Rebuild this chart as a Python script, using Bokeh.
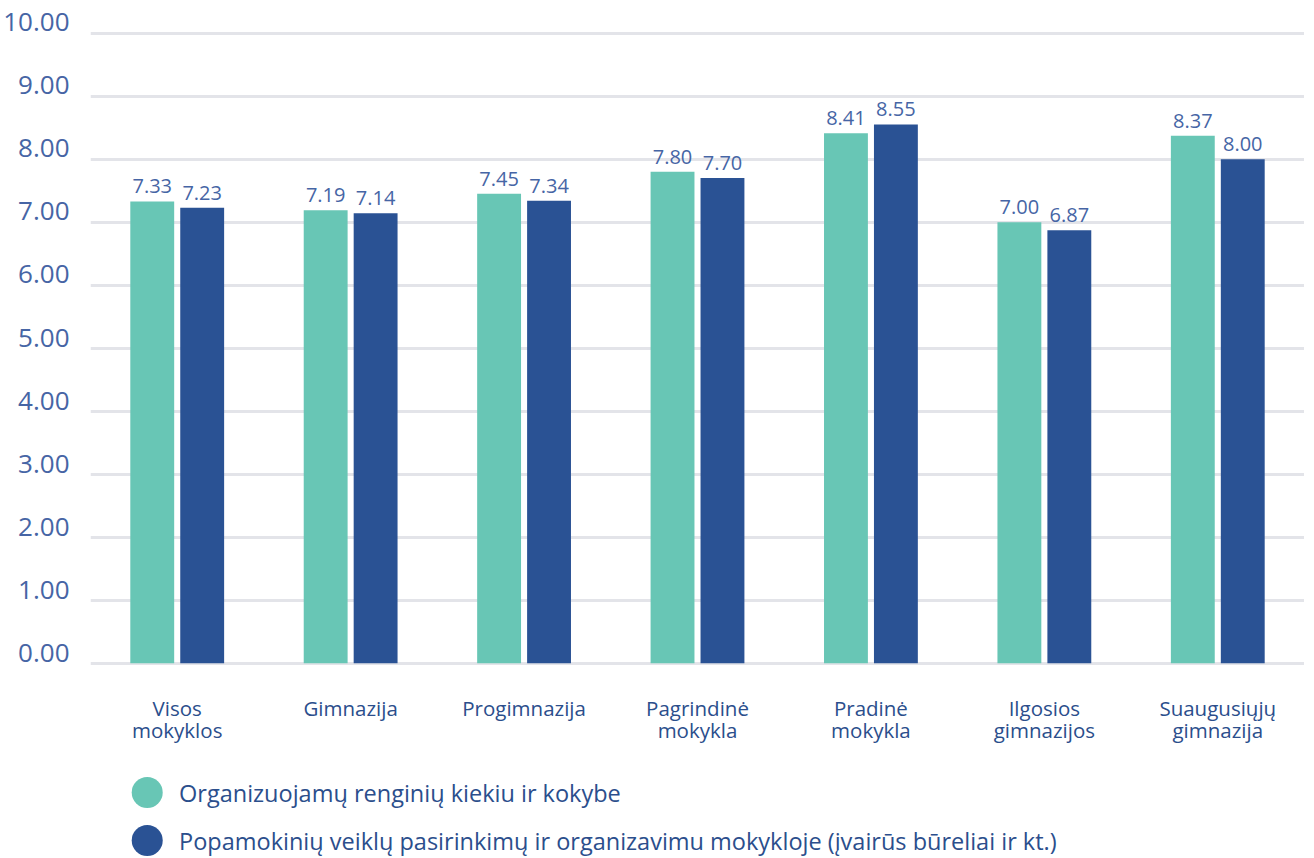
from bokeh.plotting import figure
from bokeh.models import (ColumnDataSource, Range1d, FactorRange, FixedTicker,
                          NumeralTickFormatter, LinearAxis)
from bokeh.transform import dodge
from bokeh.layouts import column
from bokeh.embed import file_html
from bokeh.resources import INLINE
from bokeh.core.properties import value

# ---- data ----
categories = ["Visos\nmokyklos", "Gimnazija", "Progimnazija", "Pagrindinė\nmokykla",
              "Pradinė\nmokykla", "Ilgosios\ngimnazijos", "Suaugusiųjų\ngimnazija"]
series_names = ["Organizuojamų renginių kiekiu ir kokybe",
                "Popamokinių veiklų pasirinkimų ir organizavimu mokykloje (įvairūs būreliai ir kt.)"]
renginiai = [7.33, 7.19, 7.45, 7.80, 8.41, 7.00, 8.37]
popamokine = [7.23, 7.14, 7.34, 7.70, 8.55, 6.87, 8.00]
y_ticks = [0, 1, 2, 3, 4, 5, 6, 7, 8, 9, 10]

# ---- style ----
colors = ["#68C6B5", "#2A5294"]
FONT = "Open Sans"
TICK_COLOR = "#4665A5"
CAT_COLOR = "#2B4E8C"
GRID_COLOR = "#E3E4E9"
Y0, Y1 = -0.05, 10.2
LABEL_SHIFT = 0.17  # tick labels sit a little above their grid lines

src = ColumnDataSource(dict(
    cat=categories,
    v1=renginiai,
    v2=popamokine,
    l1=[f"{v:.2f}" for v in renginiai],
    l2=[f"{v:.2f}" for v in popamokine],
))

p = figure(frame_width=1214, frame_height=646,
           x_range=FactorRange(*categories, range_padding=0),
           y_range=Range1d(Y0, Y1), output_backend="svg", toolbar_location=None,
           min_border_left=82, min_border_right=0, min_border_top=20, min_border_bottom=82,
           y_axis_location=None)
p.outline_line_color = None
p.background_fill_color = "white"
p.border_fill_color = "white"

off = 0.144
bw = 0.253
p.vbar(x=dodge("cat", -off, range=p.x_range), top="v1", width=bw, source=src,
       fill_color=colors[0], line_color=None)
p.vbar(x=dodge("cat", off, range=p.x_range), top="v2", width=bw, source=src,
       fill_color=colors[1], line_color=None)

for col, lab, dx in (("v1", "l1", -off), ("v2", "l2", off)):
    p.text(x=dodge("cat", dx, range=p.x_range), y=col, text=lab, source=src,
           text_align="center", text_baseline="bottom", y_offset=-8,
           text_font=value(FONT), text_font_size="20px", text_color=TICK_COLOR)

# grid
p.xgrid.grid_line_color = None
p.ygrid.ticker = FixedTicker(ticks=y_ticks)
p.ygrid.grid_line_color = GRID_COLOR
p.ygrid.grid_line_width = 3

# y axis (on a slightly shifted range so labels sit above grid lines)
p.extra_y_ranges = {"lab": Range1d(Y0 - LABEL_SHIFT, Y1 - LABEL_SHIFT)}
yax = LinearAxis(y_range_name="lab", ticker=FixedTicker(ticks=y_ticks),
                 formatter=NumeralTickFormatter(format="0.00"))
yax.axis_line_color = None
yax.major_tick_line_color = None
yax.minor_tick_line_color = None
yax.major_label_standoff = 15
yax.major_label_text_font = FONT
yax.major_label_text_font_size = "26px"
yax.major_label_text_color = TICK_COLOR
p.add_layout(yax, "left")

# x axis
p.xaxis.axis_line_color = None
p.xaxis.major_tick_line_color = None
p.xaxis.minor_tick_line_color = None
p.xaxis.major_label_standoff = 21
p.xaxis.major_label_text_font = FONT
p.xaxis.major_label_text_font_size = "20.5px"
p.xaxis.major_label_text_line_height = 0.8
p.xaxis.major_label_text_color = CAT_COLOR

# ---- legend figure ----
leg_src = ColumnDataSource(dict(
    name=series_names,
    idx=list(range(len(series_names))),
    color=colors,
))
lg = figure(width=1298, height=110, x_range=Range1d(92, 1306), y_range=Range1d(1.375, -0.917),
            output_backend="svg", toolbar_location=None,
            min_border_left=0, min_border_right=0, min_border_top=0, min_border_bottom=0)
lg.outline_line_color = None
lg.axis.visible = False
lg.grid.visible = False
lg.scatter(x=149, y="idx", size=31, fill_color="color", line_color=None, source=leg_src)
lg.text(x=181, y="idx", text="name", source=leg_src, text_baseline="middle",
        text_align="left", text_font=value(FONT), text_font_size="23.5px", text_color=CAT_COLOR)

layout = column(p, lg, spacing=0)
open("out.html", "w").write(file_html(layout, INLINE))
